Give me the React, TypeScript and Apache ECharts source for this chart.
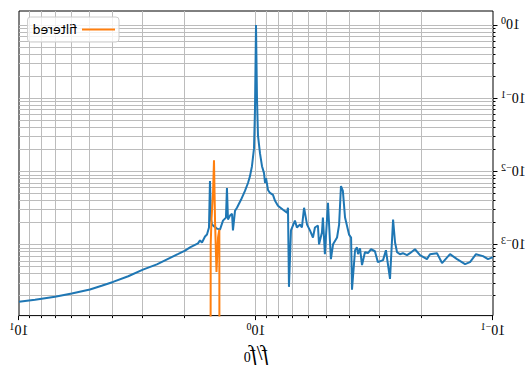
import React, { useEffect, useRef } from 'react';
import * as echarts from 'echarts';

// Spectrum (blue line), f/f0 vs amplitude
const rawFreq = [
  0.1, 0.105, 0.1102, 0.118, 0.125, 0.1312, 0.1418, 0.1518, 0.1641, 0.1723,
  0.1844, 0.19, 0.2032, 0.2134, 0.224, 0.2306, 0.24, 0.247, 0.254, 0.259,
  0.264, 0.272, 0.283, 0.291, 0.306, 0.315, 0.327, 0.337, 0.347, 0.357,
  0.364, 0.371, 0.375, 0.382, 0.3935, 0.397, 0.405, 0.421, 0.43, 0.438,
  0.446, 0.455, 0.473, 0.483, 0.497, 0.512, 0.522, 0.527, 0.542, 0.548,
  0.564, 0.575, 0.592, 0.609, 0.627, 0.64, 0.652, 0.672, 0.685, 0.712,
  0.726, 0.733, 0.74, 0.769, 0.808, 0.831, 0.848, 0.873, 0.89, 0.907,
  0.916, 0.925, 0.9434, 0.9619, 0.9808, 0.9903, 1.0, 1.0098, 1.0196, 1.04,
  1.06, 1.081, 1.113, 1.157, 1.18, 1.203, 1.226, 1.251, 1.262, 1.287,
  1.313, 1.326, 1.339, 1.378, 1.419, 1.461, 1.533, 1.548, 1.564, 1.579,
  1.61, 1.641, 1.69, 1.723, 1.757, 1.898, 1.993, 2.127, 2.35, 2.62,
  3.0, 3.46, 4.01, 4.48, 5.02, 5.99, 7.05, 8.56, 10,
];
const rawAmp = [
  6.67e-4, 6.27e-4, 6.89e-4, 7.33e-4, 5.71e-4, 5.37e-4, 6.27e-4, 7.33e-4, 5.54e-4, 7.56e-4,
  7.33e-4, 6.27e-4, 7.1e-4, 8.56e-4, 7.56e-4, 7.1e-4, 7.56e-4, 7.33e-4, 7.8e-4, 1.06e-3,
  2.18e-3, 3.37e-4, 8.3e-4, 6.08e-4, 5.71e-4, 8.04e-4, 8.56e-4, 7.6e-4, 7.8e-4, 5.2e-4,
  8.83e-4, 7.33e-4, 9.1e-4, 8.3e-4, 2.39e-4, 1.24e-3, 1.36e-3, 2.32e-3, 5.37e-3, 6.27e-3,
  1.86e-3, 1.24e-3, 1.0e-3, 6.27e-4, 3.7e-3, 7.33e-4, 2.32e-3, 1.45e-3, 1.0e-3, 1.81e-3,
  1.7e-3, 1.24e-3, 1.55e-3, 1.86e-3, 3.16e-3, 1.7e-3, 1.86e-3, 1.7e-3, 2.11e-3, 1.55e-3,
  2.62e-4, 3.16e-3, 2.71e-3, 2.97e-3, 3.37e-3, 3.93e-3, 4.74e-3, 5.04e-3, 5.54e-3, 8.04e-3,
  6.89e-3, 9.4e-3, 1.17e-2, 1.75e-2, 3.06e-2, 9.7e-2, 1.0, 7.1e-2, 2.05e-2, 1.17e-2,
  8.56e-3, 6.89e-3, 5.37e-3, 4.06e-3, 3.58e-3, 3.16e-3, 2.88e-3, 1.55e-3, 2.62e-3, 2.47e-3,
  2.18e-3, 5.89e-3, 2.32e-3, 2.11e-3, 1.59e-3, 1.64e-3, 1.86e-3, 2.18e-3, 7.33e-3, 1.7e-3,
  1.36e-3, 1.28e-3, 1.06e-3, 1.13e-3, 1.03e-3, 9.1e-4, 8.22e-4, 7.4e-4, 6.33e-4, 5.31e-4,
  4.5e-4, 3.66e-4, 3.06e-4, 2.71e-4, 2.41e-4, 2.13e-4, 1.92e-4, 1.75e-4, 1.64e-4,
];

// Filtered band (orange line)
const filteredFreq = [1.425, 1.428, 1.446, 1.468, 1.489, 1.504, 1.518, 1.541, 1.553, 1.556];
const filteredAmp = [1e-6, 1.59e-3, 1.24e-3, 4.18e-4, 2.11e-3, 1.41e-2, 5.04e-3, 2.18e-3, 1.0e-3, 1e-6];

// Axis ticks
const xMajorTicks = [0.1, 1, 10];
const xMinorTicks = [0.2, 0.3, 0.4, 0.5, 0.6, 0.7, 0.8, 0.9, 2, 3, 4, 5, 6, 7, 8, 9];
const yMajorTicks = [1e-3, 1e-2, 1e-1, 1];
const yMinorTicks = [
  2e-4, 3e-4, 4e-4, 5e-4, 6e-4, 7e-4, 8e-4, 9e-4,
  2e-3, 3e-3, 4e-3, 5e-3, 6e-3, 7e-3, 8e-3, 9e-3,
  2e-2, 3e-2, 4e-2, 5e-2, 6e-2, 7e-2, 8e-2, 9e-2,
  2e-1, 3e-1, 4e-1, 5e-1, 6e-1, 7e-1, 8e-1, 9e-1,
];
const xRange = [0.1, 10];
const yRange = [1.06e-4, 1.55];

const SERIF = "'Liberation Serif', 'DejaVu Serif', serif";
const SANS = "'DejaVu Sans', sans-serif";
const GRID_COLOR = '#bcbcbc';

function tickSeries(vals: number[], axis: 'x' | 'y', len: number, name: string) {
  return {
    type: 'custom',
    name,
    silent: true,
    z: 1,
    clip: false,
    encode: { x: 0, y: 1 },
    data: vals.map((v) => (axis === 'x' ? [v, 1] : [1, v])),
    renderItem: (params: any, api: any) => {
      const cs = params.coordSys;
      const p = api.coord([api.value(0), api.value(1)]);
      const children: any[] = [];
      if (axis === 'x') {
        const x = Math.round(p[0]) + 0.5;
        if (x > cs.x + 1.5 && x < cs.x + cs.width - 1.5) {
          children.push({
            type: 'line',
            shape: { x1: x, y1: cs.y, x2: x, y2: cs.y + cs.height },
            style: { stroke: GRID_COLOR, lineWidth: 1 },
          });
        }
        children.push({
          type: 'line',
          shape: { x1: x, y1: cs.y + cs.height, x2: x, y2: cs.y + cs.height + len },
          style: { stroke: '#000', lineWidth: 1 },
        });
      } else {
        const y = Math.round(p[1]) + 0.5;
        if (y > cs.y + 1.5 && y < cs.y + cs.height - 1.5) {
          children.push({
            type: 'line',
            shape: { x1: cs.x, y1: y, x2: cs.x + cs.width, y2: y },
            style: { stroke: GRID_COLOR, lineWidth: 1 },
          });
        }
        children.push({
          type: 'line',
          shape: { x1: cs.x - len, y1: y, x2: cs.x, y2: y },
          style: { stroke: '#000', lineWidth: 1 },
        });
      }
      return { type: 'group', children };
    },
  };
}

function powLabel(value: number) {
  const lg = Math.log10(value);
  const e = Math.round(lg);
  if (Math.abs(lg - e) > 1e-6) return '';
  const sup = e < 0 ? '\u2212' + String(-e) : String(e);
  return '{b|10}{s|' + sup + '}';
}

const labelRich = {
  b: { fontSize: 14, fontFamily: SERIF, color: '#000' },
  s: { fontSize: 10, fontFamily: SERIF, color: '#000', padding: [0, 0, 8, 0] },
};

export default function App() {
  const ref = useRef<HTMLDivElement>(null);
  useEffect(() => {
    if (!ref.current) return;
    const chart = echarts.init(ref.current, null, { renderer: 'svg' });
    chart.setOption({
      animation: false,
      backgroundColor: '#fff',
      grid: {
        left: 38,
        right: 19,
        top: 11,
        bottom: 50,
        show: true,
        borderColor: '#000',
        borderWidth: 1,
        backgroundColor: 'transparent',
      },
      legend: {
        data: [{ name: 'filtered', icon: 'rect' }],
        left: 412,
        top: 17,
        itemWidth: 33,
        itemHeight: 2,
        padding: [6, 5, 6, 4],
        selectedMode: false,
        backgroundColor: 'rgba(255,255,255,0.8)',
        borderColor: '#cccccc',
        borderWidth: 1,
        borderRadius: 3,
        textStyle: { fontFamily: SANS, fontSize: 12.5, color: '#000' },
      },
      xAxis: {
        type: 'log',
        logBase: 10,
        min: xRange[0],
        max: xRange[1],
        axisLine: { show: false },
        axisTick: { show: false },
        splitLine: { show: false },
        axisLabel: {
          formatter: powLabel,
          rich: labelRich,
          margin: 6,
          showMinLabel: true,
          showMaxLabel: true,
        },
        name: '{i|f}{n|/}{i|f}{sub|0}',
        nameLocation: 'middle',
        nameGap: 26,
        nameTextStyle: {
          rich: {
            i: { fontSize: 21, fontStyle: 'italic', fontFamily: SERIF, color: '#000' },
            n: { fontSize: 21, fontFamily: SERIF, color: '#000' },
            sub: { fontSize: 14, fontFamily: SERIF, color: '#000', padding: [8, 0, 0, 0] },
          },
        },
      },
      yAxis: {
        type: 'log',
        logBase: 10,
        min: yRange[0],
        max: yRange[1],
        axisLine: { show: false },
        axisTick: { show: false },
        splitLine: { show: false },
        axisLabel: {
          formatter: powLabel,
          rich: labelRich,
          margin: 8,
          showMinLabel: false,
          showMaxLabel: false,
        },
      },
      series: [
        tickSeries(xMinorTicks, 'x', 2.5, 'xminor'),
        tickSeries(xMajorTicks, 'x', 4.5, 'xmajor'),
        tickSeries(yMinorTicks, 'y', 2.5, 'yminor'),
        tickSeries(yMajorTicks, 'y', 4.5, 'ymajor'),
        {
          type: 'line',
          name: 'spectrum',
          z: 3,
          showSymbol: false,
          symbol: 'none',
          clip: true,
          data: rawFreq.map((f, i) => [f, rawAmp[i]]),
          lineStyle: { color: '#1f77b4', width: 2 },
          itemStyle: { color: '#1f77b4' },
        },
        {
          type: 'line',
          name: 'filtered',
          z: 4,
          showSymbol: false,
          symbol: 'none',
          clip: true,
          data: filteredFreq.map((f, i) => [f, filteredAmp[i]]),
          lineStyle: { color: '#ff7f0e', width: 2 },
          itemStyle: { color: '#ff7f0e' },
        },
      ],
    });
    return () => chart.dispose();
  }, []);
  return (
    <div
      ref={ref}
      style={{
        position: 'absolute',
        left: 0,
        top: 0,
        width: 531,
        height: 369,
        transform: 'scaleX(-1)',
      }}
    />
  );
}
